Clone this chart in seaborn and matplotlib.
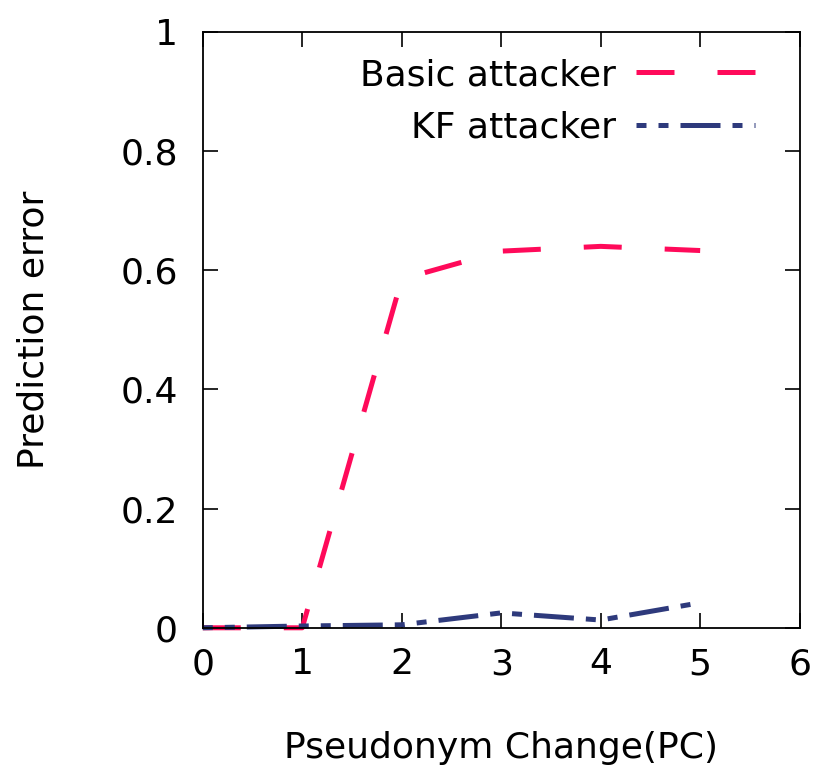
import matplotlib
matplotlib.use("Agg")
import matplotlib.pyplot as plt
import numpy as np
import pandas as pd
import seaborn as sns

# Data
pc_changes = [0, 1, 2, 3, 4, 5]
basic_error = [0.0, 0.0, 0.585, 0.632, 0.640, 0.633]
kf_error = [0.0, 0.003, 0.005, 0.025, 0.013, 0.042]
series_names = ["Basic attacker", "KF attacker"]
x_ticks = [0, 1, 2, 3, 4, 5, 6]
y_ticks = [0, 0.2, 0.4, 0.6, 0.8, 1]
y_ticklabels = ["0", "0.2", "0.4", "0.6", "0.8", "1"]

df = pd.DataFrame({
    "pc": pc_changes * 2,
    "error": basic_error + kf_error,
    "series": [series_names[0]] * len(pc_changes) + [series_names[1]] * len(pc_changes),
})

FS = 26
sns.set_theme(style="ticks")
# gnuplot-like ticks: inward, on all four sides
plt.rcParams.update({
    "font.family": ["DejaVu Sans"],
    "text.color": "black",
    "axes.labelcolor": "black",
    "axes.edgecolor": "black",
    "axes.linewidth": 1.3,
    "xtick.direction": "in",
    "ytick.direction": "in",
    "xtick.top": True,
    "xtick.bottom": True,
    "ytick.left": True,
    "ytick.right": True,
    "xtick.major.size": 11,
    "ytick.major.size": 11,
    "xtick.major.width": 1.2,
    "ytick.major.width": 1.2,
    "xtick.major.pad": 14,
    "ytick.major.pad": 18,
    "xtick.color": "black",
    "ytick.color": "black",
    "xtick.labelsize": FS,
    "ytick.labelsize": FS,
})

palette = {"Basic attacker": "#FF0A5A", "KF attacker": "#2E3A7C"}
dashes = {"Basic attacker": (7.6, 8.6), "KF attacker": (2.0, 2.4, 2.0, 2.4, 8.0, 2.4)}

fig = plt.figure(figsize=(8.21, 7.76), dpi=100)
ax = fig.add_axes([0.247, 0.191, 0.727, 0.768])

sns.lineplot(
    data=df, x="pc", y="error", hue="series", style="series",
    palette=palette, dashes=dashes, linewidth=3.6, ax=ax, legend=True,
)
for line in ax.get_lines():
    line.set_clip_on(False)

ax.set_xlim(0, 6)
ax.set_ylim(0, 1)
ax.set_xticks(x_ticks)
ax.set_xticklabels([str(t) for t in x_ticks])
ax.set_yticks(y_ticks)
ax.set_yticklabels(y_ticklabels)

ax.set_xlabel("Pseudonym Change(PC)", fontsize=FS, labelpad=36)
ax.set_ylabel("Prediction error", fontsize=FS, labelpad=50)

handles, labels = ax.get_legend_handles_labels()
leg = ax.legend(
    handles, labels, loc="upper right", bbox_to_anchor=(0.925, 0.956),
    frameon=False, fontsize=FS, markerfirst=False, handlelength=3.3,
    handletextpad=0.55, labelspacing=0.52, borderpad=0, borderaxespad=0,
)
for t in leg.get_texts():
    t.set_color("black")

fig.savefig("out.png", dpi=100)
plt.close(fig)
